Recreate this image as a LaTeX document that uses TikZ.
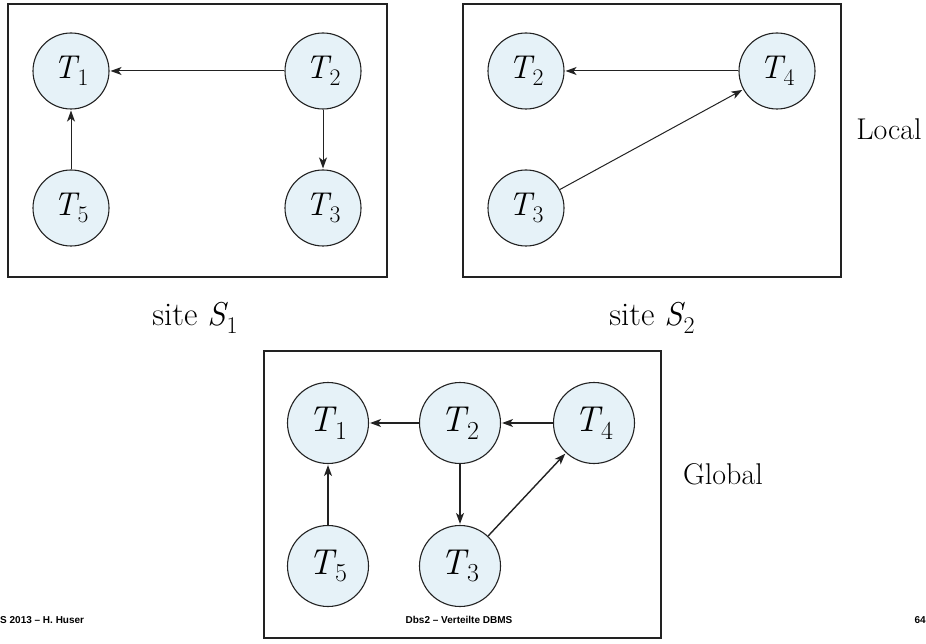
\documentclass[tikz,border=0pt]{standalone}
\usepackage{fontspec}
\newfontfamily\footfont{Liberation Sans}
\usetikzlibrary{arrows.meta}
\definecolor{nodefill}{HTML}{E6F2F8}
\definecolor{edgecol}{HTML}{222222}
\newcommand\tlab[2]{\fontsize{#1}{#1}\selectfont\textit{T}\kern-0.06em\raisebox{-0.22em}{\fontsize{0.72\dimexpr#1pt\relax}{1pt}\selectfont #2}}
\tikzset{
  tnode/.style={circle, draw=edgecol, line width=1.1pt, fill=nodefill, minimum size=76pt, inner sep=0pt},
  gnode/.style={tnode, minimum size=81pt},
  frame/.style={draw=edgecol, line width=1.4pt},
  edge/.style={draw=edgecol, line width=1pt, -{Stealth[length=11pt,width=8pt,inset=3pt]}, shorten >=1pt},
  gedge/.style={edge, line width=1.4pt},
  lbl/.style={font=\fontsize{33}{33}\selectfont, inner sep=0pt},
  side/.style={font=\fontsize{30}{30}\selectfont, inner sep=0pt},
  foot/.style={font=\footfont\bfseries\fontsize{10}{11}\selectfont, inner sep=0pt}
}
\begin{document}
\begin{tikzpicture}[x=1pt,y=-1pt]
\useasboundingbox (0,0) rectangle (926,644);
% frames
\draw[frame] (8,4) rectangle (387,277);
\draw[frame] (463,4) rectangle (841,277);
\draw[frame] (264,351) rectangle (661,638);
% site S1
\node[tnode] (a1) at (71,71) {\tlab{33}{1}};
\node[tnode] (a2) at (323,71) {\tlab{33}{2}};
\node[tnode] (a5) at (71,208) {\tlab{33}{5}};
\node[tnode] (a3) at (323,208) {\tlab{33}{3}};
\draw[edge] (a2) -- (a1);
\draw[edge] (a5) -- (a1);
\draw[edge] (a2) -- (a3);
% site S2
\node[tnode] (b2) at (526,71) {\tlab{33}{2}};
\node[tnode] (b4) at (777,71) {\tlab{33}{4}};
\node[tnode] (b3) at (526,208) {\tlab{33}{3}};
\draw[edge] (b4) -- (b2);
\draw[edge] (b3) -- (b4);
% global
\node[gnode] (c1) at (328,423) {\tlab{36}{1}};
\node[gnode] (c2) at (460,423) {\tlab{36}{2}};
\node[gnode] (c4) at (594,423) {\tlab{36}{4}};
\node[gnode] (c5) at (328,566) {\tlab{36}{5}};
\node[gnode] (c3) at (460,566) {\tlab{36}{3}};
\draw[gedge] (c2) -- (c1);
\draw[gedge] (c4) -- (c2);
\draw[gedge] (c5) -- (c1);
\draw[gedge] (c2) -- (c3);
\draw[gedge] (c3) -- (c4);
% labels
\node[lbl] (s1) at (195,318) {site \textit{S}\kern-0.04em\raisebox{-0.22em}{\fontsize{24}{24}\selectfont 1}};
\node[lbl] (s2) at (652,318) {site \textit{S}\kern-0.04em\raisebox{-0.22em}{\fontsize{24}{24}\selectfont 2}};
\node[side] (loc) at (889,129) {Local};
\node[side] (glob) at (723,474) {Global};
% footer
\node[foot, anchor=west] (f1) at (0,620) {S 2013 – H. Huser};
\node[foot] (f2) at (459,620) {Dbs2 – Verteilte DBMS};
\node[foot, anchor=east] (f3) at (926,620) {64};
\end{tikzpicture}
\end{document}
